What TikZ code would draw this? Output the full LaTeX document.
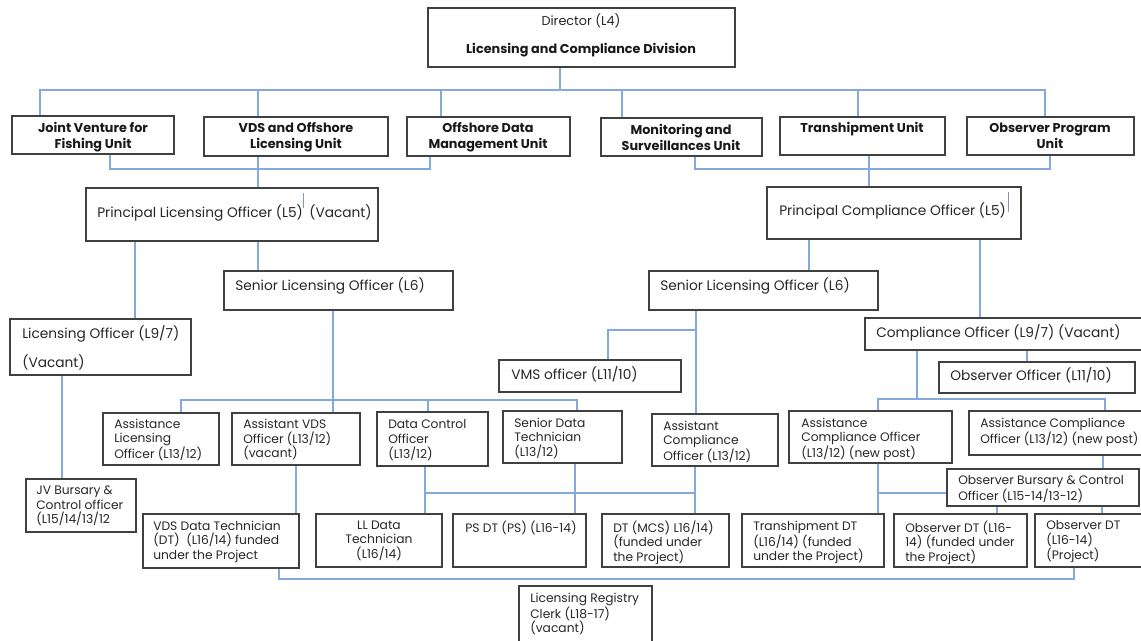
\documentclass[tikz,border=0pt]{standalone}
\usepackage{fontspec}
\setmainfont{Poppins}
\usepackage{xcolor}
\definecolor{linkblue}{HTML}{84A9DB}
\definecolor{boxgrey}{HTML}{404040}
\usepackage{tikz}
\usetikzlibrary{fit}
\tikzset{
  orgbox/.style={draw=boxgrey, line width=0.9pt, inner sep=0pt, fit={#1}},
  txt/.style={anchor=north west, inner sep=0pt, align=left, text=black!85,
    font=\fontsize{9.2}{11}\selectfont},
  ctxt/.style={txt, anchor=north, align=center},
  uptxt/.style={txt, font=\fontsize{10.3}{12.5}\selectfont},
  unittxt/.style={anchor=north, inner sep=0pt, align=center, text=black!90,
    font=\fontsize{9.6}{12}\selectfont\bfseries},
  link/.style={draw=linkblue, line width=1.1pt},
  strayline/.style={draw=linkblue!60!gray, line width=0.5pt}
}

\begin{document}
\begin{tikzpicture}[x=0.75pt, y=-0.75pt]
  \useasboundingbox (0,0) rectangle (1141,641);

  % director
  \node[orgbox={(428,8) (735,67)}] (dir) {};
  \node[ctxt, font=\fontsize{9.6}{11}\selectfont] (dir-a) at (581,13.5) {Director (L4)};
  \node[unittxt] (dir-b) at (581,42.5) {Licensing and Compliance Division};

  % units
  \node[orgbox={(12,116) (174,154)}] (jv) {};
  \node[unittxt] (jv-t) at (93,122) {Joint Venture for\\Fishing Unit};
  \node[orgbox={(204,117) (388,156)}] (vds) {};
  \node[unittxt] (vds-t) at (296,122.5) {VDS and Offshore\\Licensing Unit};
  \node[orgbox={(407,117) (570,156)}] (odm) {};
  \node[unittxt] (odm-t) at (488,122.5) {Offshore Data\\Management Unit};
  \node[orgbox={(601,118) (762,156)}] (ms) {};
  \node[unittxt] (ms-t) at (681,123.5) {Monitoring and\\Surveillances Unit};
  \node[orgbox={(780,117) (945,155)}] (trs) {};
  \node[unittxt] (trs-t) at (862,121.5) {Transhipment Unit};
  \node[orgbox={(967,117) (1134,155)}] (obs) {};
  \node[unittxt] (obs-t) at (1050,122.5) {Observer Program\\Unit};

  % principal officers
  \node[orgbox={(86,188) (378,241)}] (plo) {};
  \node[uptxt] (plo-t) at (97,204.5) {Principal Licensing Officer (L5)\hspace{2pt} (Vacant)};
  \node[orgbox={(767,187) (1021,239)}] (pco) {};
  \node[uptxt] (pco-t) at (779,202.5) {Principal Compliance Officer (L5)};
  \draw[strayline] (303,193) -- (303,208);
  \draw[strayline] (1008,192) -- (1008,212);

  % senior and officer level
  \node[orgbox={(10,319) (191,375)}] (lo) {};
  \node[uptxt] (lo-t) at (22,325.5) {Licensing Officer (L9/7)\\[9pt](Vacant)};
  \node[orgbox={(224,271) (453,310)}] (slo) {};
  \node[uptxt] (slo-t) at (235,277.5) {Senior Licensing Officer (L6)};
  \node[orgbox={(649,271) (878,310)}] (slo2) {};
  \node[uptxt] (slo2-t) at (660,277.5) {Senior Licensing Officer (L6)};
  \node[orgbox={(865,318) (1146,350)}] (co) {};
  \node[uptxt] (co-t) at (876,324.5) {Compliance Officer (L9/7) (Vacant)};
  \node[orgbox={(499,360) (681,392)}] (vms) {};
  \node[uptxt] (vms-t) at (511,366.5) {VMS officer (L11/10)};
  \node[orgbox={(939,362) (1135,393)}] (obso) {};
  \node[uptxt] (obso-t) at (950,367.5) {Observer Officer (L11/10)};

  % assistant level
  \node[orgbox={(103,413) (219,465)}] (alo) {};
  \node[txt] (alo-t) at (114,418.5) {Assistance\\Licensing\\Officer (L13/12)};
  \node[orgbox={(232,413) (360,465)}] (avds) {};
  \node[txt] (avds-t) at (243,419) {Assistant VDS\\Officer (L13/12)\\(vacant)};
  \node[orgbox={(377,412) (488,466)}] (dco) {};
  \node[txt] (dco-t) at (388,419.5) {Data Control\\Officer\\(L13/12)};
  \node[orgbox={(503,411) (622,463)}] (sdt) {};
  \node[txt] (sdt-t) at (514,417.5) {Senior Data\\Technician\\(L13/12)};
  \node[orgbox={(652,414) (778,466)}] (aco) {};
  \node[txt] (aco-t) at (663,420.5) {Assistant\\Compliance\\Officer (L13/12)};
  \node[orgbox={(789,411) (952,463)}] (acmo1) {};
  \node[txt] (acmo1-t) at (801,417.5) {Assistance\\Compliance Officer\\(L13/12) (new post)};
  \node[orgbox={(969,411) (1146,455)}] (acmo2) {};
  \node[txt] (acmo2-t) at (980,417.5) {Assistance Compliance\\Officer (L13/12) (new post)};
  \node[orgbox={(947,469) (1139,506)}] (obc) {};
  \node[txt] (obc-t) at (958,475.5) {Observer Bursary \& Control\\Officer (L15-14/13-12)};
  \node[orgbox={(26,479) (136,532)}] (jvb) {};
  \node[txt] (jvb-t) at (36,485.5) {JV Bursary \&\\Control officer\\(L15/14/13/12};

  % technicians
  \node[orgbox={(143,514) (299,568)}] (vdsdt) {};
  \node[txt] (vdsdt-t) at (153,520.5) {VDS Data Technician\\(DT)\ \ (L16/14) funded\\under the Project};
  \node[orgbox={(316,514) (442,567)}] (lldt) {};
  \node[ctxt] (lldt-t) at (379,520.5) {LL Data\\Technician\\(L16/14)};
  \node[orgbox={(453,514) (586,567)}] (psdt) {};
  \node[txt] (psdt-t) at (465,520.5) {PS DT (PS) (L16-14)};
  \node[orgbox={(602,514) (729,567)}] (dtmcs) {};
  \node[txt] (dtmcs-t) at (613,520.5) {DT (MCS) L16/14)\\(funded under\\the Project)};
  \node[orgbox={(742,514) (884,567)}] (tdt) {};
  \node[txt] (tdt-t) at (753,520.5) {Transhipment DT\\(L16/14) (funded\\under the Project)};
  \node[orgbox={(894,514) (1027,567)}] (odt1) {};
  \node[txt] (odt1-t) at (905,520.5) {Observer DT (L16-\\14) (funded under\\the Project)};
  \node[orgbox={(1035,514) (1146,567)}] (odt2) {};
  \node[txt] (odt2-t) at (1046,520.5) {Observer DT\\(L16-14)\\(Project)};
  \node[orgbox={(519,586) (652,650)}] (lrc) {};
  \node[txt] (lrc-t) at (530,592.5) {Licensing Registry\\Clerk (L18-17)\\(vacant)};

  % director to units
  \draw[link] (560,0 |- dir.south) -- (560,90);
  \draw[link] (40,0 |- jv.north) -- (40,90) -- (1045,90) -- (1045,0 |- obs.north);
  \draw[link] (258,90) -- (258,0 |- vds.north);
  \draw[link] (441,90) -- (441,0 |- odm.north);
  \draw[link] (622,90) -- (622,0 |- ms.north);
  \draw[link] (858,90) -- (858,0 |- trs.north);

  % units to principal officers
  \draw[link] (110,0 |- jv.south) -- (110,169) -- (430,169) -- (430,0 |- odm.south);
  \draw[link] (258,0 |- vds.south) -- (258,0 |- plo.north);
  \draw[link] (695,0 |- ms.south) -- (695,169) -- (1050,169) -- (1050,0 |- obs.south);
  \draw[link] (869,0 |- trs.south) -- (869,0 |- pco.north);

  % licensing side
  \draw[link] (135,0 |- plo.south) -- (135,0 |- lo.north);
  \draw[link] (258,0 |- plo.south) -- (258,0 |- slo.north);
  \draw[link] (62,0 |- lo.south) -- (62,0 |- jvb.north);
  \draw[link] (333,0 |- slo.south) -- (333,0 |- avds.north);
  \draw[link] (181,0 |- alo.north) -- (181,400) -- (577,400) -- (577,0 |- sdt.north);
  \draw[link] (428,400) -- (428,0 |- dco.north);
  \draw[link] (296,0 |- avds.south) -- (296,0 |- vdsdt.north);

  % compliance side
  \draw[link] (809,0 |- pco.south) -- (809,0 |- slo2.north);
  \draw[link] (980,0 |- pco.south) -- (980,0 |- co.north);
  \draw[link] (696,0 |- slo2.south) -- (696,0 |- aco.north);
  \draw[link] (696,330) -- (608,330) -- (608,0 |- vms.north);
  \draw[link] (917,0 |- co.south) -- (917,399);
  \draw[link] (878,0 |- acmo1.north) -- (878,399) -- (1105,399) -- (1105,0 |- acmo2.north);
  \draw[link] (1027,0 |- co.south) -- (1027,0 |- obso.north);

  % technicians
  \draw[link] (425,0 |- dco.south) -- (425,0 |- lldt.north);
  \draw[link] (575,0 |- sdt.south) -- (575,0 |- psdt.north);
  \draw[link] (695,0 |- aco.south) -- (695,0 |- dtmcs.north);
  \draw[link] (425,493) -- (695,493);
  \draw[link] (878,0 |- acmo1.south) -- (878,0 |- tdt.north);
  \draw[link] (878,493) -- (obc.west |- 0,493);
  \draw[link] (1103,0 |- acmo2.south) -- (1103,0 |- obc.north);
  \draw[link] (997,0 |- obc.south) -- (997,0 |- odt1.north);
  \draw[link] (1102,0 |- obc.south) -- (1102,0 |- odt2.north);
  \draw[link] (279,0 |- vdsdt.south) -- (279,579) -- (1074,579) -- (1074,0 |- odt2.south);
\end{tikzpicture}
\end{document}
